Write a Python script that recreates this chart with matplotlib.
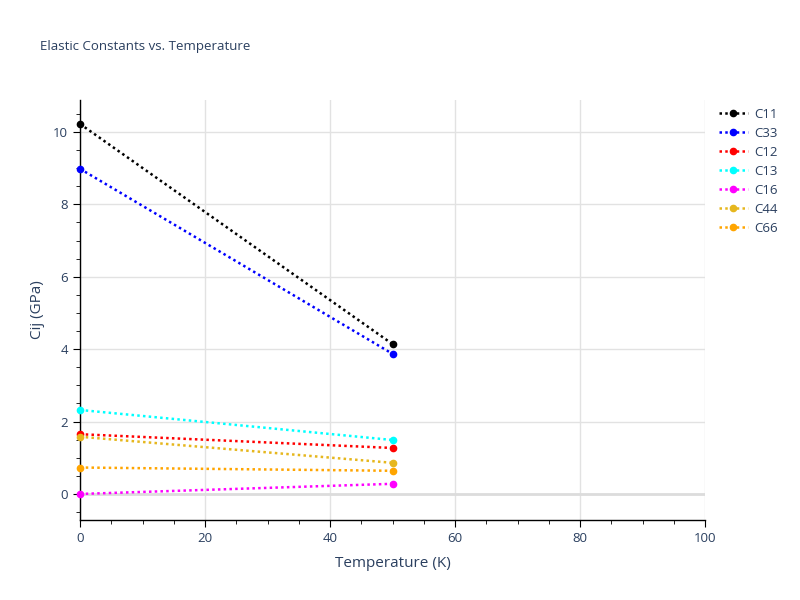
import matplotlib
matplotlib.use("Agg")
import matplotlib.pyplot as plt
from matplotlib.ticker import MultipleLocator

plt.rcParams['font.family'] = ['Open Sans', 'DejaVu Sans']

temperature = [0, 50]
names = ["C11", "C33", "C12", "C13", "C16", "C44", "C66"]
c11 = [10.22, 4.14]
c33 = [8.98, 3.87]
c12 = [1.65, 1.27]
c13 = [2.32, 1.49]
c16 = [0.0, 0.28]
c44 = [1.58, 0.86]
c66 = [0.73, 0.64]
series = [c11, c33, c12, c13, c16, c44, c66]
colors = ["black", "blue", "red", "cyan", "magenta", "#e6b71e", "orange"]

text_color = "#2a3f5f"
fig = plt.figure(figsize=(8, 6), dpi=100)
ax = fig.add_axes([0.1, 0.1333, 0.78125, 0.7])

for name, vals, col in zip(names, series, colors):
    ax.plot(temperature, vals, linestyle=(0, (1, 1.3)), linewidth=1.8, color=col,
            marker='o', markersize=4.5, label=name, clip_on=False, zorder=3)

ax.set_xlim(0, 100)
ax.set_ylim(-0.72, 10.88)
ax.xaxis.set_major_locator(MultipleLocator(20))
ax.xaxis.set_minor_locator(MultipleLocator(5))
ax.yaxis.set_major_locator(MultipleLocator(2))
ax.yaxis.set_minor_locator(MultipleLocator(0.5))
ax.grid(True, which='major', color='#e2e2e2', linewidth=1)
ax.axhline(0, color='#dcdcdc', linewidth=2, zorder=1)
ax.set_axisbelow(True)
for s in ['top', 'right']:
    ax.spines[s].set_visible(False)
for s in ['left', 'bottom']:
    ax.spines[s].set_color('black')
    ax.spines[s].set_linewidth(1)
ax.tick_params(which='major', length=5, color='black', labelsize=9.5, labelcolor=text_color, direction='out')
ax.tick_params(which='minor', length=3, color='black', direction='out')
ax.set_xlabel("Temperature (K)", fontsize=11, color=text_color, labelpad=8)
ax.set_ylabel("Cij (GPa)", fontsize=11, color=text_color, labelpad=6)

fig.text(0.05, 0.923, "Elastic Constants vs. Temperature", fontsize=9.5, color=text_color, va='center')

leg = fig.legend(loc='upper left', bbox_to_anchor=(0.892, 0.829), frameon=False,
                 fontsize=9.5, handlelength=2.2, handletextpad=0.5, labelspacing=0.45,
                 borderaxespad=0)
for t in leg.get_texts():
    t.set_color(text_color)

fig.savefig("out.png", dpi=100)
